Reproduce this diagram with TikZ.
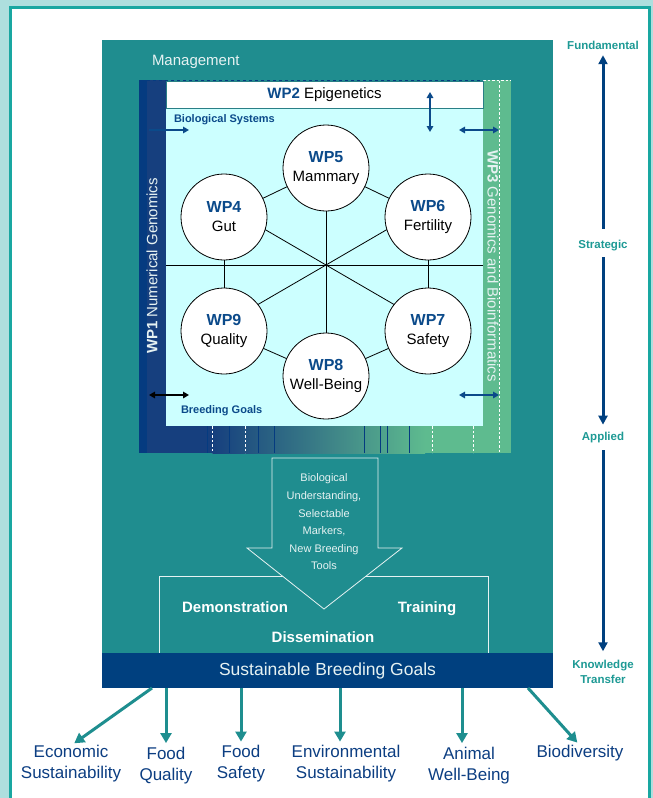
\documentclass[tikz,border=0pt]{standalone}
\usepackage{fontspec}
\setmainfont{Liberation Sans}
\usetikzlibrary{arrows.meta}
\definecolor{tealmain}{HTML}{1F8D8F}
\definecolor{darkblue}{HTML}{00407F}
\definecolor{wpblue}{HTML}{0B4A8A}
\definecolor{wp1blue}{HTML}{163F7E}
\definecolor{wp1dark}{HTML}{053B80}
\definecolor{cyanbg}{HTML}{CCFFFF}
\definecolor{greenbar}{HTML}{5EBB8F}
\definecolor{frameteal}{HTML}{19A7A1}
\definecolor{outerbg}{HTML}{AEDFDE}
\definecolor{axisteal}{HTML}{1E9A95}
\definecolor{labblue}{HTML}{0C3E82}
\definecolor{lighttext}{HTML}{E6F2F2}
\definecolor{wp2border}{HTML}{2A7F86}
\definecolor{arrowteal}{HTML}{1E8E8F}
\newcommand{\setfs}[2]{\fontsize{#1}{#2}\selectfont}
\newcommand{\wpl}[1]{{\fontsize{16}{19}\selectfont\bfseries\color{wpblue}#1}}
\begin{document}
\begin{tikzpicture}[x=1pt,y=-1pt,
  every node/.style={inner sep=0pt, outer sep=0pt},
  wpc/.style={circle, draw=black, line width=0.8pt, fill=white, minimum size=86pt, align=center, font=\setfs{15}{19}},
  thinline/.style={draw=black, line width=0.8pt},
  bluearr/.style={draw=wpblue, line width=1.6pt, -{Triangle[length=6pt,width=6.5pt]}},
  bluedbl/.style={draw=wpblue, line width=1.6pt, {Triangle[length=6pt,width=6.5pt]}-{Triangle[length=6pt,width=6.5pt]}},
  blackdbl/.style={draw=black, line width=1.6pt, {Triangle[length=6pt,width=6.5pt]}-{Triangle[length=6pt,width=6.5pt]}},
  smallbold/.style={font=\setfs{11}{13}\bfseries, text=wpblue},
  stripline/.style={draw=wp1dark, line width=0.7pt},
  stripdash/.style={draw=white, line width=0.7pt, dash pattern=on 2.5pt off 2pt},
  lightbold/.style={font=\setfs{15}{18}\bfseries, text=white, anchor=base},
  outarr/.style={draw=arrowteal, line width=3pt, -{Triangle[length=10pt,width=11pt]}, shorten >=4pt},
  goal/.style={font=\setfs{17}{21}, text=labblue, align=center},
  axlab/.style={font=\setfs{11.5}{15}\bfseries, text=axisteal, align=center},
  axarr/.style={draw=darkblue, line width=3pt, -{Triangle[length=9pt,width=9pt]}}
]
\useasboundingbox (0,0) rectangle (653,798);
% frame
\fill[outerbg] (0,0) rectangle (653,798);
\fill[white] (12,9) rectangle (648,798);
\draw[frameteal, line width=3pt] (10.5,798) -- (10.5,7.5) -- (649.5,7.5) -- (649.5,798);
% main teal box
\fill[tealmain] (102,40) rectangle (553,653);
\node[anchor=west, font=\setfs{15}{18}, text=lighttext] (mgmt) at (152,62) {Management};
% inner system
\fill[wp1blue] (139,80) rectangle (166,453);
\fill[wp1dark] (139,80) rectangle (147,453);
\fill[greenbar] (483,80) rectangle (511,453);
\fill[wp1blue] (166,426) rectangle (212,453);
\shade[left color=wp1blue, right color=greenbar] (212,426) rectangle (425,453);
\fill[greenbar] (425,426) rectangle (483,453);
\fill[cyanbg] (166,108) rectangle (483,426);
\foreach \xx in {207,229,258,274,364,380,387,409}
  \draw[stripline] (\xx,426) -- (\xx,453);
\foreach \xx in {212,245,432,473}
  \draw[stripdash] (\xx,426) -- (\xx,453);
\draw[stripdash] (499,80.5) -- (499,453);
\draw[stripdash] (483,80.5) -- (511,80.5);
\draw[draw=wp1dark, line width=0.6pt, dash pattern=on 3pt off 3pt] (147,80.5) -- (483,80.5);
\node[draw=wp2border, line width=0.6pt, fill=white, minimum width=317pt, minimum height=27pt, anchor=north west, font=\setfs{15}{18}] (wp2) at (166,81) {\textbf{\color{wpblue}WP2} Epigenetics};
\node[rotate=90, font=\setfs{15}{18}, text=lighttext] (wp1) at (152,266) {\textbf{WP1} Numerical Genomics};
\node[rotate=-90, font=\setfs{15}{18}, text=lighttext] (wp3) at (493,266) {\textbf{WP3} Genomics and Bioinformatics};
% star
\coordinate (hub) at (326,265);
\coordinate (hl) at (166,265);
\coordinate (hr) at (483,265);
\draw[thinline] (hl) -- (hr);
\node[wpc] (c5) at (326,168) {\wpl{WP5}\\Mammary};
\node[wpc] (c4) at (224,217) {\wpl{WP4}\\Gut};
\node[wpc] (c6) at (428,217) {\wpl{WP6}\\Fertility};
\node[wpc] (c9) at (224,331) {\wpl{WP9}\\Quality};
\node[wpc] (c7) at (428,331) {\wpl{WP7}\\Safety};
\node[wpc] (c8) at (326,376) {\wpl{WP8}\\Well-Being};
\draw[thinline] (hub) -- (c5.south);
\draw[thinline] (hub) -- (c8.north);
\draw[thinline] (hub) -- (c4.-17);
\draw[thinline] (hub) -- (c6.197);
\draw[thinline] (hub) -- (c9.38);
\draw[thinline] (hub) -- (c7.142);
\draw[thinline] (c4) -- (c5);
\draw[thinline] (c5) -- (c6);
\draw[thinline] (c6) -- (c7);
\draw[thinline] (c7) -- (c8);
\draw[thinline] (c8) -- (c9);
\draw[thinline] (c9) -- (c4);
% small arrows
\coordinate (a1s) at (149,130); \coordinate (a1e) at (189,130);
\coordinate (a2s) at (430,92);  \coordinate (a2e) at (430,132);
\coordinate (a3s) at (459,130); \coordinate (a3e) at (499,130);
\coordinate (a4s) at (149,395); \coordinate (a4e) at (189,395);
\coordinate (a5s) at (459,395); \coordinate (a5e) at (499,395);
\draw[bluearr] (a1s) -- (a1e);
\draw[bluedbl] (a2s) -- (a2e);
\draw[bluedbl] (a3s) -- (a3e);
\draw[blackdbl] (a4s) -- (a4e);
\draw[bluedbl] (a5s) -- (a5e);
\node[smallbold, anchor=west] (biosys) at (174,120) {Biological Systems};
\node[smallbold, anchor=west] (breedg) at (181,411) {Breeding Goals};
% dissemination box and big arrow
\draw[draw=lighttext, line width=0.8pt] (159,653) -- (159,576) -- (488,576) -- (488,653);
\filldraw[fill=tealmain, draw=lighttext, line width=0.8pt]
  (272,458) -- (378,458) -- (378,548) -- (402,548) -- (324,609) -- (247,548) -- (272,548) -- cycle;
\node[font=\setfs{11}{17.6}, text=lighttext, align=center] (arrtext) at (324,522)
  {Biological\\Understanding,\\Selectable\\Markers,\\New Breeding\\Tools};
\node[lightbold] (demo) at (235,612.5) {Demonstration};
\node[lightbold] (train) at (427,612.5) {Training};
\node[lightbold] (dissem) at (323,642.5) {Dissemination};
% band
\node[fill=darkblue, minimum width=451pt, minimum height=35pt, anchor=north west, font=\setfs{17.5}{20}, text=lighttext] (sbg) at (102,653) {Sustainable Breeding Goals};
% goals
\node[goal] (g1) at (71,764) {Economic\\Sustainability};
\node[goal] (g2) at (166,765.5) {Food\\Quality};
\node[goal] (g3) at (241,764) {Food\\Safety};
\node[goal] (g4) at (346,764) {Environmental\\Sustainability};
\node[goal] (g5) at (469,765.5) {Animal\\Well-Being};
\node[goal] (g6) at (580,753.5) {Biodiversity};
\coordinate (s1) at (152,688);
\coordinate (s2) at (166,688);
\coordinate (s3) at (241,688);
\coordinate (s4) at (340,688);
\coordinate (s5) at (462,688);
\coordinate (s6) at (528,688);
\draw[outarr] (s1) -- (g1.north);
\draw[outarr] (s2) -- (s2 |- g2.north);
\draw[outarr] (s3) -- (s3 |- g3.north);
\draw[outarr] (s4) -- (s4 |- g4.north);
\draw[outarr] (s5) -- (s5 |- g5.north);
\draw[outarr] (s6) -- (g6.north);
% axis
\node[axlab] (fund) at (603,45) {Fundamental};
\node[axlab] (strat) at (603,246) {Strategic};
\node[axlab] (appl) at (603,438) {Applied};
\node[axlab] (ktr) at (603,672) {Knowledge\\Transfer};
\draw[axarr, shorten <=12pt, shorten >=6pt] (strat.north) -- (fund.south);
\draw[axarr, shorten <=6pt, shorten >=8pt] (strat.south) -- (appl.north);
\draw[axarr, shorten <=7pt, shorten >=9pt] (appl.south) -- (ktr.north);
\end{tikzpicture}
\end{document}
